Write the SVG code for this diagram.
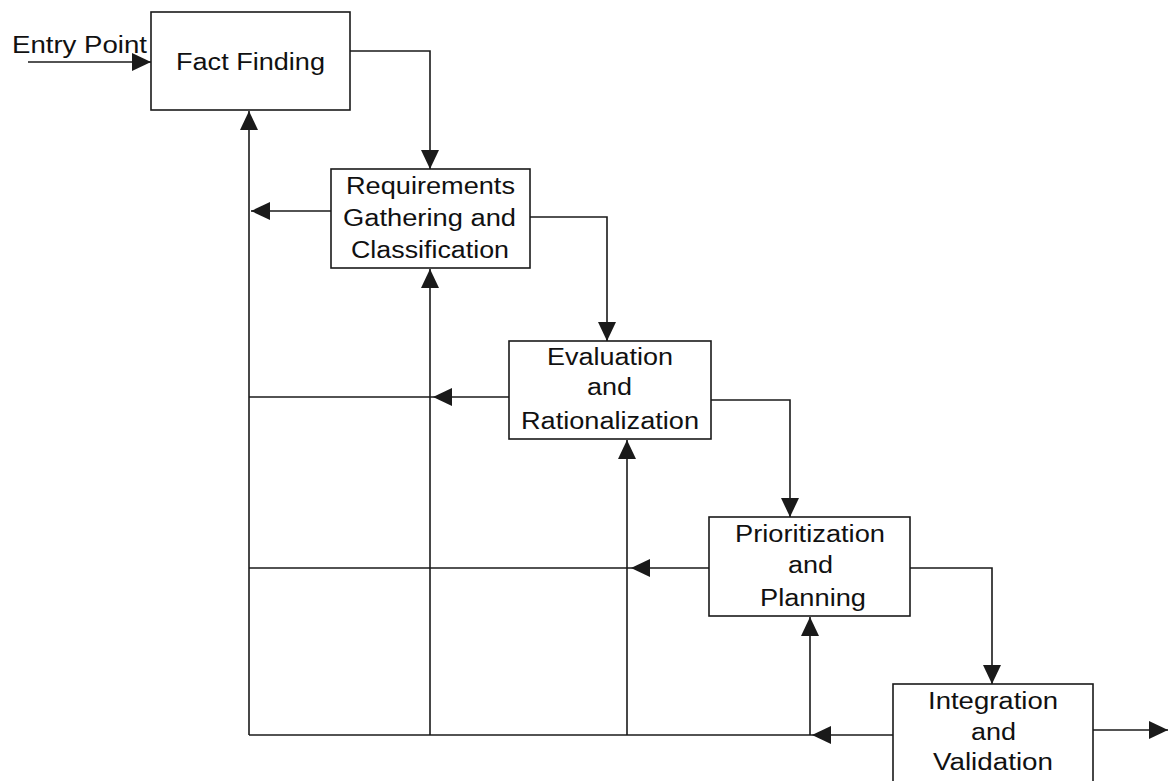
<svg xmlns="http://www.w3.org/2000/svg" width="1169" height="781" viewBox="0 0 1169 781">
<defs>
<style>
.box{fill:#fff;stroke:#1a1a1a;stroke-width:1.6}
.ln{fill:none;stroke:#1a1a1a;stroke-width:1.6}
.t{font-family:"Liberation Sans",Arial,sans-serif;font-size:23px;fill:#111}
</style>
<marker id="arr" markerUnits="userSpaceOnUse" markerWidth="20" markerHeight="18" refX="19" refY="9" orient="auto">
<path d="M0,0 L19,9 L0,18 Z" fill="#1a1a1a"/>
</marker>
</defs>
<rect width="1169" height="781" fill="#fff"/>
<g id="connectors">
<path class="ln" d="M28,62 H151" marker-end="url(#arr)"/>
<path class="ln" d="M350,51 H430 V169" marker-end="url(#arr)"/>
<path class="ln" d="M530,217 H607 V341" marker-end="url(#arr)"/>
<path class="ln" d="M711,400 H790 V517" marker-end="url(#arr)"/>
<path class="ln" d="M910,568 H992 V684" marker-end="url(#arr)"/>
<path class="ln" d="M1093,730 H1168" marker-end="url(#arr)"/>
<path class="ln" d="M331,211 H251" marker-end="url(#arr)"/>
<path class="ln" d="M509,397 H433" marker-end="url(#arr)"/>
<path class="ln" d="M433,397 H249"/>
<path class="ln" d="M709,568 H631" marker-end="url(#arr)"/>
<path class="ln" d="M631,568 H249"/>
<path class="ln" d="M893,735 H812" marker-end="url(#arr)"/>
<path class="ln" d="M812,735 H249"/>
<path class="ln" d="M249,735 V111" marker-end="url(#arr)"/>
<path class="ln" d="M430,735 V269" marker-end="url(#arr)"/>
<path class="ln" d="M627,735 V440" marker-end="url(#arr)"/>
<path class="ln" d="M810,735 V617" marker-end="url(#arr)"/>
</g>
<g id="entry">
<text class="t" x="12" y="53" textLength="135" lengthAdjust="spacingAndGlyphs">Entry Point</text>
</g>
<g id="fact-finding">
<rect class="box" x="151" y="12" width="199" height="98"/>
<text class="t" x="176" y="70" textLength="149" lengthAdjust="spacingAndGlyphs">Fact Finding</text>
</g>
<g id="requirements">
<rect class="box" x="331" y="169" width="199" height="99"/>
<text class="t" x="346" y="194" textLength="169" lengthAdjust="spacingAndGlyphs">Requirements</text>
<text class="t" x="343" y="226" textLength="173" lengthAdjust="spacingAndGlyphs">Gathering and</text>
<text class="t" x="351" y="258" textLength="158" lengthAdjust="spacingAndGlyphs">Classification</text>
</g>
<g id="evaluation">
<rect class="box" x="509" y="341" width="202" height="98"/>
<text class="t" x="547" y="365" textLength="126" lengthAdjust="spacingAndGlyphs">Evaluation</text>
<text class="t" x="587" y="395" textLength="45" lengthAdjust="spacingAndGlyphs">and</text>
<text class="t" x="521" y="429" textLength="178" lengthAdjust="spacingAndGlyphs">Rationalization</text>
</g>
<g id="prioritization">
<rect class="box" x="709" y="517" width="201" height="99"/>
<text class="t" x="735" y="542" textLength="150" lengthAdjust="spacingAndGlyphs">Prioritization</text>
<text class="t" x="788" y="573" textLength="45" lengthAdjust="spacingAndGlyphs">and</text>
<text class="t" x="760" y="606" textLength="106" lengthAdjust="spacingAndGlyphs">Planning</text>
</g>
<g id="integration">
<rect class="box" x="893" y="684" width="200" height="105"/>
<text class="t" x="928" y="709" textLength="130" lengthAdjust="spacingAndGlyphs">Integration</text>
<text class="t" x="971" y="740" textLength="45" lengthAdjust="spacingAndGlyphs">and</text>
<text class="t" x="933" y="770" textLength="120" lengthAdjust="spacingAndGlyphs">Validation</text>
</g>
</svg>
